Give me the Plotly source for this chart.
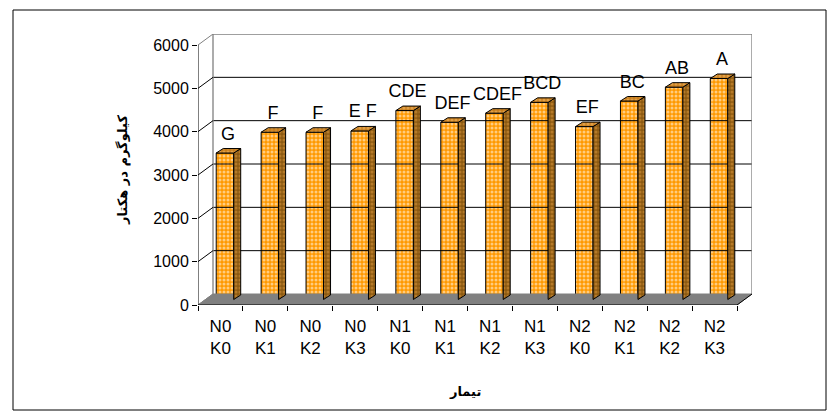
import plotly.graph_objects as go

# ---- data -------------------------------------------------------------
n_levels = ["N0", "N0", "N0", "N0", "N1", "N1", "N1", "N1", "N2", "N2", "N2", "N2"]
k_levels = ["K0", "K1", "K2", "K3", "K0", "K1", "K2", "K3", "K0", "K1", "K2", "K3"]
yield_kg = [3380, 3860, 3860, 3890, 4360, 4090, 4300, 4550, 3990, 4580, 4900, 5100]
groups = ["G", "F", "F", "E F", "CDE", "DEF", "CDEF", "BCD", "EF", "BC", "AB", "A"]
y_ticks = [0, 1000, 2000, 3000, 4000, 5000, 6000]

tick_text = [f"{n}<br>{k}" for n, k in zip(n_levels, k_levels)]
idx = list(range(len(yield_kg)))

# ---- pseudo-3D geometry (pixel sizes converted to axis units) ----------
W, H = 838, 419
L, R, T, B = 198, 752, 34, 305          # plot area in pixels
PX_X = (737 - 198) / 12                 # pixels per category
PX_Y = (305 - 45) / 6000                # pixels per kg
X0 = -0.5
x_max = X0 + (R - L) / PX_X
y_max = (B - T) / PX_Y

DXB, DYB = 15 / PX_X, 11 / PX_Y         # depth of the box (back wall offset)
BAR_DX, BAR_BASE = 4.5 / PX_X, 5.5 / PX_Y
BAR_W = 17.5 / PX_X
SDX, SDY = 7 / PX_X, 4.5 / PX_Y         # depth of each bar
LABEL_UP = 18 / PX_Y

ORANGE = "#FF9900"
SIDE = "#8C5A12"
TOP = "#C87F1E"
GREY = "#808080"
FONT = "Liberation Sans, Arial"

fig = go.Figure()

# floor
fx = [X0, X0 + 12, X0 + 12 + DXB, X0 + DXB, X0]
fy = [0, 0, DYB, DYB, 0]
fig.add_trace(go.Scatter(x=fx, y=fy, mode="lines", fill="toself",
                         fillcolor=GREY, line=dict(color=GREY, width=1),
                         hoverinfo="skip"))

# back wall gridlines and frame
for v in y_ticks[1:-1]:
    fig.add_trace(go.Scatter(x=[X0 + DXB, X0 + 12 + DXB], y=[v + DYB, v + DYB],
                             mode="lines", line=dict(color="black", width=1),
                             hoverinfo="skip"))
top = y_ticks[-1] + DYB
fig.add_trace(go.Scatter(x=[X0 + DXB, X0 + DXB, X0 + 12 + DXB, X0 + 12 + DXB],
                         y=[DYB, top, top, DYB], mode="lines",
                         line=dict(color=GREY, width=1.3), hoverinfo="skip"))

# side wall edges from the value axis to the back wall
for v in y_ticks[1:]:
    fig.add_trace(go.Scatter(x=[X0, X0 + DXB], y=[v, v + DYB], mode="lines",
                             line=dict(color="black" if v < 6000 else GREY, width=1),
                             hoverinfo="skip"))

# floor edges
fig.add_trace(go.Scatter(x=[X0, X0 + DXB], y=[0, DYB], mode="lines",
                         line=dict(color=GREY, width=1), hoverinfo="skip"))
fig.add_trace(go.Scatter(x=[X0 + 12, X0 + 12 + DXB], y=[0, DYB], mode="lines",
                         line=dict(color="black", width=1), hoverinfo="skip"))

# value axis line and category axis line
fig.add_trace(go.Scatter(x=[X0, X0], y=[0, y_ticks[-1]], mode="lines",
                         line=dict(color="black", width=1), hoverinfo="skip"))
fig.add_trace(go.Scatter(x=[X0, X0 + 12], y=[0, 0], mode="lines",
                         line=dict(color="black", width=1), hoverinfo="skip"))

# bar front faces
bar_x = [i + BAR_DX for i in idx]
fig.add_trace(go.Bar(x=bar_x, y=yield_kg, base=BAR_BASE, width=BAR_W,
                     marker=dict(color=ORANGE, line=dict(color="black", width=1),
                                 pattern=dict(shape=".", fgcolor="#FFFFFF",
                                              size=4, solidity=0.45)),
                     hoverinfo="skip"))

# bar side and top faces
side_x, side_y, top_x, top_y = [], [], [], []
for xc, v in zip(bar_x, yield_kg):
    xl, xr = xc - BAR_W / 2, xc + BAR_W / 2
    yb, yt = BAR_BASE, BAR_BASE + v
    side_x += [xr, xr + SDX, xr + SDX, xr, xr, None]
    side_y += [yb, yb + SDY, yt + SDY, yt, yb, None]
    top_x += [xl, xr, xr + SDX, xl + SDX, xl, None]
    top_y += [yt, yt, yt + SDY, yt + SDY, yt, None]

fig.add_trace(go.Scatter(x=side_x, y=side_y, mode="lines", fill="toself",
                         fillcolor=SIDE,
                         fillpattern=dict(shape=".", fgcolor="#E09A40", bgcolor=SIDE,
                                          size=4, solidity=0.45),
                         line=dict(color="black", width=1), hoverinfo="skip"))
fig.add_trace(go.Scatter(x=top_x, y=top_y, mode="lines", fill="toself",
                         fillcolor=TOP,
                         fillpattern=dict(shape=".", fgcolor="#F8C070", bgcolor=TOP,
                                          size=4, solidity=0.45),
                         line=dict(color="black", width=1), hoverinfo="skip"))

# grouping letters above the bars
fig.add_trace(go.Scatter(x=[x + 3 / PX_X for x in bar_x],
                         y=[BAR_BASE + v + LABEL_UP for v in yield_kg],
                         mode="text", text=groups,
                         textfont=dict(family=FONT, size=18, color="black"),
                         hoverinfo="skip"))

fig.update_layout(
    width=W, height=H,
    margin=dict(l=L, r=W - R, t=T, b=H - B),
    paper_bgcolor="white", plot_bgcolor="white",
    showlegend=False,
    font=dict(family=FONT, color="black"),
    xaxis=dict(range=[X0, x_max], tickmode="array", tickvals=idx, ticktext=tick_text,
               showgrid=False, zeroline=False, showline=False, ticks="",
               ticklabelstandoff=9,
               tickfont=dict(size=17), fixedrange=True),
    xaxis2=dict(range=[X0, x_max], overlaying="x", anchor="y", side="bottom",
                tickmode="array", tickvals=[X0 + i for i in range(13)],
                showticklabels=False, ticks="outside", ticklen=5, tickcolor="black",
                showgrid=False, zeroline=False, showline=False),
    yaxis=dict(range=[0, y_max], tickmode="array", tickvals=y_ticks,
               ticks="outside", ticklen=5, tickcolor="black",
               showgrid=False, zeroline=False, showline=False,
               tickfont=dict(size=16), fixedrange=True),
    annotations=[
        dict(text="<b>کیلوگرم در هکتار</b>", xref="paper", yref="paper",
             x=(123 - L) / (R - L), y=(B - 170) / (B - T), textangle=-90,
             xanchor="center", yanchor="middle",
             showarrow=False, font=dict(family="DejaVu Sans", size=13)),
        dict(text="<b>تیمار</b>", xref="paper", yref="paper",
             x=(465 - L) / (R - L), y=(B - 391) / (B - T),
             xanchor="center", yanchor="middle",
             showarrow=False, font=dict(family="DejaVu Sans", size=13)),
    ],
    shapes=[dict(type="rect", xref="paper", yref="paper",
                 x0=(13 - L) / (R - L), x1=(826 - L) / (R - L),
                 y0=(B - 410) / (B - T), y1=(B - 10) / (B - T),
                 line=dict(color="black", width=1))],
)

# invisible trace so the boundary tick axis is drawn
fig.add_trace(go.Scatter(x=[X0], y=[0], xaxis="x2", mode="markers",
                         marker=dict(opacity=0), hoverinfo="skip"))

fig.write_html("out.html")
